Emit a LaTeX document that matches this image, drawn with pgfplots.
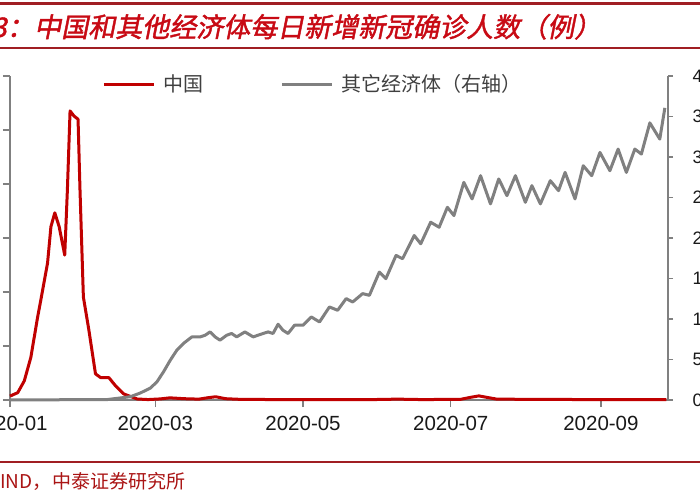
\documentclass[border=0pt]{standalone}
\usepackage{fontspec}
\usepackage{pgfplots}
\pgfplotsset{compat=1.18}
\setmainfont{Liberation Sans}
\newfontfamily\cjk{Noto Sans CJK SC}
\newfontfamily\cjktitle[FakeSlant=0.2,FakeBold=1.5]{Noto Sans CJK SC}

\definecolor{cnred}{RGB}{192,0,0}
\definecolor{othgray}{RGB}{128,128,128}
\definecolor{axgray}{RGB}{128,128,128}
\definecolor{rule}{RGB}{160,30,35}
\definecolor{titlered}{RGB}{200,10,20}
\definecolor{srcred}{RGB}{170,20,20}

\begin{document}
\begin{tikzpicture}
\useasboundingbox (0,0) rectangle (700bp,500bp);
\clip (0,0) rectangle (700bp,500bp);
\fill[white] (0,0) rectangle (700bp,500bp);

% title and rules
\draw[rule, line width=3bp] (0,496bp) -- (700bp,496bp);
\draw[rule, line width=1.5bp] (0,452bp) -- (700bp,452bp);
\node[anchor=base west, inner sep=0pt, text=titlered, font=\fontsize{27bp}{30bp}\cjktitle] at (34bp,463bp) {中国和其他经济体每日新增新冠确诊人数（例）};
\node[anchor=base east, inner sep=0pt, text=titlered, font=\fontsize{27bp}{30bp}\cjktitle] at (34bp,463bp) {图表3：};
\draw[rule, line width=1.5bp] (0,38bp) -- (700bp,38bp);
\node[anchor=base west, inner sep=0pt, text=srcred, font=\fontsize{19bp}{22bp}\cjk] at (52bp,12bp) {中泰证券研究所};
\node[anchor=base east, inner sep=0pt, text=srcred, font=\fontsize{19bp}{22bp}\cjk] at (52bp,12bp) {WIND，};

\pgfplotsset{
  every axis/.append style={
    at={(10bp,100bp)}, anchor=south west,
    width=658bp, height=324bp, scale only axis,
    xmin=0, xmax=271.7, clip=false,
    axis line style={axgray, line width=1.2bp},
    tick style={axgray, line width=1.2bp},
    tick align=outside, major tick length=7bp,
    tick label style={font=\fontsize{20.5bp}{22bp}\selectfont, text=black!90},
    /pgf/number format/assume math mode=true,
  },
}

\begin{axis}[
  axis x line*=bottom, axis y line*=left,
  ymin=0, ymax=15000, ytick={0,2500,...,15000},
  scaled y ticks=false,
  xtick={0,60,121,182,244},
  xticklabels={2020-01,2020-03,2020-05,2020-07,2020-09},
  xticklabel style={yshift=-6bp},
]
\addplot[cnred, line width=3bp, line join=round] coordinates {
(0,180) (3.2,340) (5.9,885) (8.6,1970) (11.4,3833) (12.7,4612) (15.5,6335)
(16.9,8026) (18.5,8665) (20.3,8026) (22.6,6708) (23.7,9736) (24.8,13383)
(26.4,13151) (28.1,12997) (28.9,9736) (30.3,4767) (32.6,3214) (35.3,1211)
(37.4,1039) (40.8,1039) (43.6,652) (47,280) (52.5,47) (57,20) (62,50)
(66,100) (72,60) (78,40) (82,110) (85,150) (89,60) (95,30) (110,20)
(130,15) (150,20) (160,40) (170,20) (186,30) (190,120) (193.6,190)
(197,120) (201,40) (215,30) (240,20) (271,15)
};
\end{axis}

\begin{axis}[
  axis x line=none, axis y line*=right,
  ymin=0, ymax=400000, ytick={0,50000,...,400000},
  scaled y ticks=false, major tick length=5bp,
  yticklabel style={font=\fontsize{18bp}{20bp}\selectfont,
    /pgf/number format/fixed, /pgf/number format/1000 sep={}, xshift=16bp},
  legend style={draw=none, fill=none, at={(0.14,0.975)}, anchor=west,
    legend columns=2, inner sep=0pt,
    nodes={inner sep=0pt, font=\fontsize{20bp}{22bp}\cjk, text=black!75},
    /tikz/every odd column/.append style={column sep=8bp},
    /tikz/every even column/.append style={column sep=77bp}},
  legend image code/.code={\draw[#1, line width=3bp] (0bp,0bp) -- (50bp,0bp);},
]
\addlegendimage{cnred}
\addlegendentry{中国}
\addplot[othgray, line width=3bp, line join=round] coordinates {
(0,300) (20,300) (40.3,600) (49.7,4062) (53.8,8615) (58.0,14770) (60.7,22523)
(63.4,34832) (66.2,49232) (68.9,61540) (71.6,69785) (75.1,77910) (78.5,77910)
(80.6,80000) (82.6,84063) (84.7,77910) (86.7,73848) (89.5,80000) (91.5,82094)
(93.6,77910) (97.0,84063) (100.4,77910) (104.5,82094) (106.6,84063)
(108.6,82094) (110.7,93541) (112.7,86156) (114.8,82094) (117.5,92310)
(121.0,92310) (124.4,102526) (127.8,96372) (131.9,114834) (135.3,110772)
(138.8,125172) (141.5,120987) (145.6,131325) (148.4,129234) (152.5,157910)
(155.2,149787) (159.4,178466) (162.1,174403) (166.9,203082) (169.6,192866)
(173.7,219451) (177.2,213296) (180.6,237911) (183.3,227698) (187.4,268684)
(190.8,248251) (194.3,276930) (198.4,242098) (201.8,272868) (205.2,252314)
(208.7,276930) (212.8,244070) (215.5,264622) (219.0,242098) (223.1,270776)
(226.5,258468) (229.2,280993) (233.3,248251) (236.7,289238) (240.2,276930)
(243.6,305606) (247.7,283084) (251.1,309792) (254.5,280993) (258.0,309792)
(260.7,303638) (264.2,342162) (268.3,322097) (270.4,360624)
};
\addlegendentry{其它经济体（右轴）}
\end{axis}
\end{tikzpicture}
\end{document}
